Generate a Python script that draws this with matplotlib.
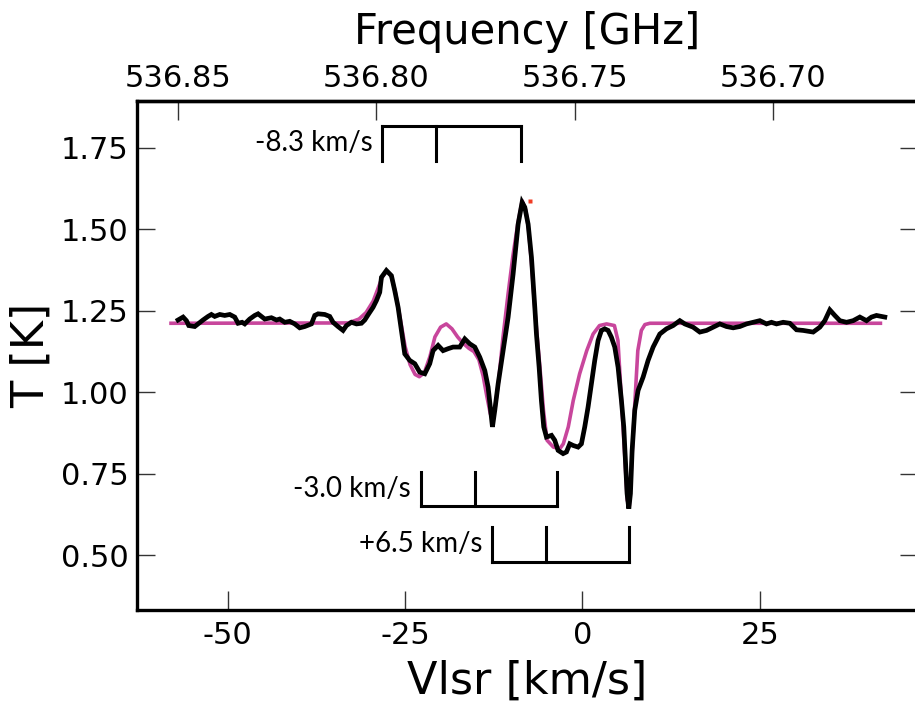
import numpy as np
import matplotlib
matplotlib.use("Agg")
import matplotlib.pyplot as plt

# ---------------- data ----------------
# observed spectrum (black): velocity [km/s], T [K]
obs_v = [-57.01, -56.30, -55.83, -55.50, -54.66, -54.19, -53.49, -52.78, -52.31, -51.84,
         -51.13, -50.43, -49.72, -49.02, -48.55, -47.99, -47.61, -46.91, -46.20, -45.73,
         -45.26, -44.79, -43.85, -43.14, -42.68, -41.97, -41.27, -40.56, -39.86, -39.15,
         -38.21, -37.74, -37.27, -36.33, -35.63, -35.16, -34.46, -33.75, -33.27, -32.57,
         -31.86, -31.16, -30.69, -30.13, -29.52, -29.04, -28.58, -28.34, -27.64, -26.93,
         -26.46, -25.99, -25.52, -25.05, -24.35, -23.64, -22.94, -22.23, -21.53, -21.06,
         -20.35, -19.65, -18.94, -18.24, -17.30, -16.59, -15.89, -15.18, -14.48, -13.77,
         -13.30, -12.83, -12.69, -12.36, -11.89, -11.19, -10.48, -9.78, -9.07, -8.51,
         -8.13, -7.66, -7.19, -6.72, -6.49, -6.11, -5.79, -5.46, -5.08, -4.37,
         -3.91, -3.44, -2.73, -2.26, -1.79, -1.32, -0.62, -0.15, 0.32, 0.79,
         1.26, 1.73, 2.20, 2.67, 3.14, 3.61, 4.08, 4.55, 5.02, 5.49,
         5.82, 6.10, 6.29, 6.53, 6.76, 7.00, 7.37, 7.84, 8.55, 9.25,
         9.96, 10.43, 10.90, 11.84, 12.78, 13.72, 14.42, 15.60, 16.54, 17.48,
         18.42, 19.36, 20.30, 21.24, 22.18, 23.12, 24.06, 25.00, 25.94, 26.64,
         27.35, 28.29, 29.23, 30.17, 31.11, 32.52, 33.46, 34.16, 34.87, 35.57,
         36.28, 37.22, 38.16, 39.10, 40.04, 40.74, 41.44, 42.62]
obs_T = [1.222, 1.231, 1.220, 1.205, 1.202, 1.210, 1.222, 1.233, 1.239, 1.233,
         1.239, 1.236, 1.239, 1.231, 1.212, 1.215, 1.210, 1.225, 1.236, 1.241,
         1.233, 1.225, 1.229, 1.222, 1.225, 1.215, 1.218, 1.210, 1.198, 1.202,
         1.210, 1.236, 1.241, 1.239, 1.233, 1.215, 1.202, 1.190, 1.205, 1.215,
         1.210, 1.212, 1.222, 1.241, 1.261, 1.282, 1.307, 1.353, 1.374, 1.358,
         1.312, 1.261, 1.190, 1.118, 1.098, 1.088, 1.062, 1.057, 1.088, 1.128,
         1.144, 1.128, 1.134, 1.139, 1.139, 1.164, 1.149, 1.139, 1.108, 1.067,
         1.016, 0.924, 0.894, 0.945, 1.026, 1.128, 1.231, 1.363, 1.516, 1.583,
         1.568, 1.516, 1.414, 1.261, 1.179, 1.077, 0.975, 0.894, 0.863, 0.868,
         0.853, 0.822, 0.812, 0.817, 0.842, 0.837, 0.832, 0.842, 0.894, 0.955,
         1.026, 1.098, 1.159, 1.190, 1.195, 1.190, 1.169, 1.139, 1.077, 0.975,
         0.894, 0.771, 0.689, 0.643, 0.689, 0.822, 0.945, 1.006, 1.047, 1.098,
         1.139, 1.159, 1.179, 1.195, 1.205, 1.220, 1.210, 1.200, 1.185, 1.190,
         1.200, 1.210, 1.202, 1.198, 1.202, 1.210, 1.215, 1.220, 1.210, 1.215,
         1.210, 1.215, 1.212, 1.192, 1.190, 1.185, 1.200, 1.220, 1.253, 1.236,
         1.220, 1.215, 1.220, 1.231, 1.220, 1.231, 1.236, 1.231]

# model spectrum (magenta)
mod_v = [-58.0, -33.0, -31.5, -30.5, -29.5, -28.8, -28.2, -27.6, -27.0, -26.4,
         -25.8, -25.0, -24.3, -23.6, -23.0, -22.3, -21.5, -20.8, -20.0, -19.2,
         -18.4, -17.6, -16.8, -16.0, -15.3, -14.6, -14.0, -13.5, -13.0, -12.7,
         -12.3, -11.8, -11.2, -10.5, -9.8, -9.1, -8.5, -8.0, -7.6, -7.2,
         -6.7, -6.0, -5.5, -5.0, -4.1, -3.2, -2.7, -2.0, -1.3, -0.4,
         0.6, 1.5, 2.4, 3.4, 4.5, 5.0, 5.5, 6.0, 6.3, 6.6,
         6.9, 7.4, 7.8, 8.3, 8.8, 9.5, 42.0]
mod_T = [1.212, 1.213, 1.225, 1.245, 1.280, 1.320, 1.355, 1.372, 1.360, 1.310,
         1.240, 1.140, 1.085, 1.055, 1.048, 1.060, 1.110, 1.170, 1.200, 1.210,
         1.195, 1.170, 1.150, 1.135, 1.125, 1.100, 1.050, 0.990, 0.935, 0.920,
         0.955, 1.040, 1.170, 1.300, 1.420, 1.520, 1.588, 1.560, 1.500, 1.400,
         1.250, 1.077, 0.945, 0.853, 0.832, 0.827, 0.842, 0.894, 0.975, 1.057,
         1.128, 1.179, 1.205, 1.210, 1.205, 1.159, 0.975, 0.790, 0.670, 0.650,
         0.770, 0.975, 1.128, 1.190, 1.208, 1.212, 1.212]

# peak marker (red)
peak_v = [-7.43]
peak_T = [1.586]

# velocity-component brackets
comp_labels = ["-8.3 km/s", "-3.0 km/s", "+6.5 km/s"]
comp_ticks = [[-28.2, -20.6, -8.6],
              [-22.8, -15.1, -3.6],
              [-12.7, -5.1, 6.6]]
comp_bar_T = [1.818, 0.650, 0.480]
comp_end_T = [1.710, 0.755, 0.587]

rest_freq = 536.748  # GHz
c_kms = 299792.458

freq_ticks = [536.85, 536.80, 536.75, 536.70]
vel_ticks = [-50, -25, 0, 25]
T_ticks = [0.50, 0.75, 1.00, 1.25, 1.50, 1.75]

# ---------------- plot ----------------
plt.rcParams['font.family'] = ['DejaVu Sans']

fig = plt.figure(figsize=(9.15, 7.09), dpi=100)
ax = fig.add_axes([0.1497, 0.1396, 0.8536, 0.7179])

magenta = '#c8469c'
ax.plot(mod_v, mod_T, color=magenta, lw=2.6, zorder=2)
ax.plot(obs_v, obs_T, color='black', lw=3.4, zorder=3, solid_joinstyle='miter')
ax.plot(peak_v, peak_T, 's', color='#f03c24', ms=2.5, zorder=4, mec='none')

for lab, ticks, ybar, yend in zip(comp_labels, comp_ticks, comp_bar_T, comp_end_T):
    ax.plot([ticks[0], ticks[-1]], [ybar, ybar], color='black', lw=2.2,
            solid_capstyle='projecting', zorder=3)
    for t in ticks:
        ax.plot([t, t], [ybar, yend], color='black', lw=2.2,
                solid_capstyle='projecting', zorder=3)
    ax.text(ticks[0] - 1.4, (ybar + yend) / 2, lab, ha='right', va='center',
            fontsize=20, family=['Lato', 'DejaVu Sans'], zorder=3)

ax.set_xlim(-62.8, 47.3)
ax.set_ylim(0.332, 1.894)
ax.set_xticks(vel_ticks)
ax.set_yticks(T_ticks)
ax.set_xticklabels([f"{v:d}" for v in vel_ticks])
ax.set_yticklabels([f"{t:.2f}" for t in T_ticks])

for s in ax.spines.values():
    s.set_linewidth(2.4)

ax.tick_params(axis='x', which='major', direction='in', length=14, width=1.0,
               color='#333333', labelsize=22, pad=8, top=False)
ax.tick_params(axis='y', which='major', direction='in', length=13, width=1.0,
               color='#333333', labelsize=22, pad=6, right=True)

def v2f(v):
    return rest_freq * (1 - np.asarray(v) / c_kms)

def f2v(f):
    return c_kms * (1 - np.asarray(f) / rest_freq)

sec = ax.secondary_xaxis('top', functions=(v2f, f2v))
sec.set_xticks(freq_ticks)
sec.set_xticklabels([f"{f:.2f}" for f in freq_ticks])
sec.tick_params(direction='in', length=14, width=1.0, color='#333333',
                labelsize=22, pad=6)
sec.spines['top'].set_linewidth(2.4)
sec.set_xlabel('Frequency [GHz]', fontsize=30, labelpad=14)

ax.set_xlabel('Vlsr [km/s]', fontsize=32, labelpad=7)
ax.set_ylabel('T [K]', fontsize=32, labelpad=6)

fig.savefig('out.png', dpi=100)
